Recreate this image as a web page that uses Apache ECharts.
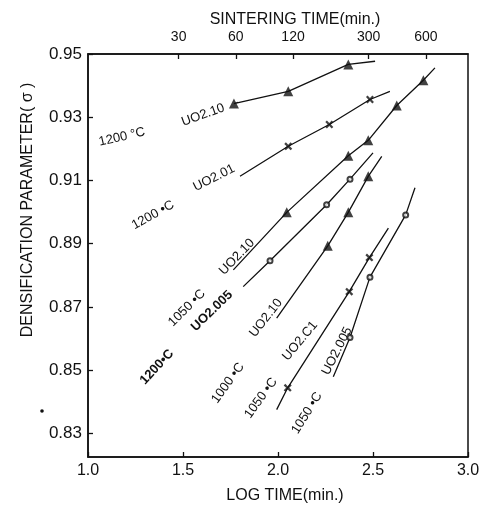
<!DOCTYPE html>
<html>
<head>
<meta charset="utf-8">
<script src="https://cdn.jsdelivr.net/npm/echarts@6/dist/echarts.min.js"></script>
<style>
html,body{margin:0;padding:0;background:#fff;}
#chart{width:484px;height:508px;}
</style>
</head>
<body>
<div id="chart"></div>
<script>
// axis ticks
var logTimeTicks = [1.0, 1.5, 2.0, 2.5, 3.0];
var sigmaTicks = [0.83, 0.85, 0.87, 0.89, 0.91, 0.93, 0.95];
var sinterMinutes = [30, 60, 120, 300, 600];

// measured points [log time, sigma] and line ends for every curve
var t1200_UO210_pts = [[1.768, 0.9343], [2.054, 0.9382], [2.370, 0.9467]];
var t1200_UO210_ends = [[1.790, 0.9347], [2.511, 0.9477]];

var t1200_UO201_pts = [[2.054, 0.9208], [2.270, 0.9277], [2.484, 0.9356]];
var t1200_UO201_ends = [[1.800, 0.9113], [2.589, 0.9382]];

var t1050_UO210_pts = [[2.046, 0.8999], [2.370, 0.9178], [2.475, 0.9227], [2.625, 0.9337], [2.765, 0.9417]];
var t1050_UO210_ends = [[1.765, 0.8817], [2.826, 0.9456]];

var t1200_UO2005_pts = [[1.958, 0.8846], [2.256, 0.9023], [2.379, 0.9104]];
var t1200_UO2005_ends = [[1.817, 0.8764], [2.500, 0.9187]];

var t1000_UO210_pts = [[2.262, 0.8893], [2.370, 0.8999], [2.475, 0.9113]];
var t1000_UO210_ends = [[1.993, 0.8664], [2.546, 0.9176]];

var t1050_UO2C1_pts = [[2.051, 0.8444], [2.375, 0.8748], [2.481, 0.8856]];
var t1050_UO2C1_ends = [[1.993, 0.8375], [2.581, 0.8949]];

var t1050_UO2005_pts = [[2.379, 0.8603], [2.484, 0.8794], [2.672, 0.8991]];
var t1050_UO2005_ends = [[2.291, 0.8479], [2.721, 0.9077]];

var crossPath = 'path://M0,2L2,0L5,3L8,0L10,2L7,5L10,8L8,10L5,7L2,10L0,8L3,5Z';
var font = '"Liberation Sans", "DejaVu Sans", sans-serif';

function lineOf(pts, ends) {
    return [ends[0]].concat(pts).concat([ends[1]]);
}

var curves = [
    {pts: t1200_UO210_pts, ends: t1200_UO210_ends, sym: 'triangle', size: 10},
    {pts: t1200_UO201_pts, ends: t1200_UO201_ends, sym: crossPath, size: 8},
    {pts: t1050_UO210_pts, ends: t1050_UO210_ends, sym: 'triangle', size: 10},
    {pts: t1200_UO2005_pts, ends: t1200_UO2005_ends, sym: 'emptyCircle', size: 5},
    {pts: t1000_UO210_pts, ends: t1000_UO210_ends, sym: 'triangle', size: 10},
    {pts: t1050_UO2C1_pts, ends: t1050_UO2C1_ends, sym: crossPath, size: 8},
    {pts: t1050_UO2005_pts, ends: t1050_UO2005_ends, sym: 'emptyCircle', size: 5}
];

var series = [];
curves.forEach(function (c) {
    series.push({
        type: 'line',
        data: lineOf(c.pts, c.ends),
        symbol: 'none',
        lineStyle: {color: '#111', width: 1.3},
        silent: true,
        z: 2
    });
    series.push({
        type: 'scatter',
        data: c.pts,
        symbol: c.sym,
        symbolSize: c.size,
        itemStyle: {color: '#111', borderWidth: c.sym === 'emptyCircle' ? 1.5 : 0},
        z: 3
    });
});

// curve labels: [text, x, y, degrees, bold]
var curveLabels = [
    ['1200 °C', 122, 137, 13, false],
    ['UO2.10', 203, 115, 20, false],
    ['UO2.01', 214, 178, 27, false],
    ['1200 •C', 153, 215, 29, false],
    ['1050 •C', 187, 308, 45, false],
    ['UO2.10', 237, 257, 46, false],
    ['UO2.005', 212, 311, 44, true],
    ['1200•C', 157, 367, 47, true],
    ['1000 •C', 228, 383, 54, false],
    ['UO2.10', 266, 318, 52, false],
    ['1050 •C', 261, 398, 54, false],
    ['UO2.C1', 300, 341, 50, false],
    ['1050 •C', 307, 413, 58, false],
    ['UO2.005', 337, 351, 63, false]
];

var graphics = curveLabels.map(function (l) {
    return {
        type: 'text',
        x: l[1], y: l[2],
        rotation: l[3] * Math.PI / 180,
        style: {
            text: l[0], fill: '#111',
            font: (l[4] ? 'bold ' : '') + '13px ' + font,
            textAlign: 'center', textVerticalAlign: 'middle'
        },
        z: 10
    };
});
graphics.push({
    type: 'text', x: 28, y: 210, rotation: Math.PI / 2,
    style: {text: 'DENSIFICATION PARAMETER( σ )', fill: '#111', font: '16px ' + font, textAlign: 'center', textVerticalAlign: 'middle'}
});
graphics.push({
    type: 'text', x: 295, y: 20,
    style: {text: 'SINTERING TIME(min.)', fill: '#111', font: '16px ' + font, textAlign: 'center', textVerticalAlign: 'middle'}
});
graphics.push({
    type: 'text', x: 285, y: 496,
    style: {text: 'LOG TIME(min.)', fill: '#111', font: '16px ' + font, textAlign: 'center', textVerticalAlign: 'middle'}
});
graphics.push({
    type: 'circle', shape: {cx: 42, cy: 411, r: 1.8}, style: {fill: '#111'}
});

var chart = echarts.init(document.getElementById('chart'), null, {renderer: 'canvas'});
chart.setOption({
    animation: false,
    backgroundColor: '#fff',
    grid: {left: 88, right: 16, top: 54, bottom: 51, show: true, borderColor: '#111', borderWidth: 1.5, backgroundColor: 'transparent'},
    xAxis: [{
        type: 'value', position: 'bottom', min: 1, max: 3, interval: 0.5,
        axisLine: {show: true, lineStyle: {color: '#111', width: 1.5}},
        axisTick: {show: true, inside: true, length: 5, lineStyle: {color: '#111', width: 1.3}},
        axisLabel: {color: '#111', fontSize: 16, fontFamily: font, margin: 6,
            formatter: function (v) { return v.toFixed(1); }},
        splitLine: {show: false}
    }, {
        type: 'value', position: 'top', min: 1, max: 3,
        axisLine: {show: true, lineStyle: {color: '#111', width: 1.5}},
        axisTick: {show: true, inside: true, length: 5, lineStyle: {color: '#111', width: 1.3},
            customValues: sinterMinutes.map(function (m) { return Math.log10(m); })},
        axisLabel: {color: '#111', fontSize: 14, fontFamily: font, margin: 10,
            customValues: sinterMinutes.map(function (m) { return Math.log10(m); }),
            formatter: function (v) { return String(Math.round(Math.pow(10, v))); }},
        splitLine: {show: false}
    }],
    yAxis: {
        type: 'value', min: 0.8225, max: 0.95,
        axisLine: {show: true, lineStyle: {color: '#111', width: 1.5}},
        axisTick: {show: true, inside: true, length: 5, lineStyle: {color: '#111', width: 1.3}, customValues: sigmaTicks},
        axisLabel: {color: '#111', fontSize: 17, fontFamily: font, margin: 6, customValues: sigmaTicks,
            formatter: function (v) { return v.toFixed(2); }},
        splitLine: {show: false}
    },
    graphic: graphics,
    series: series
});
</script>
</body>
</html>
